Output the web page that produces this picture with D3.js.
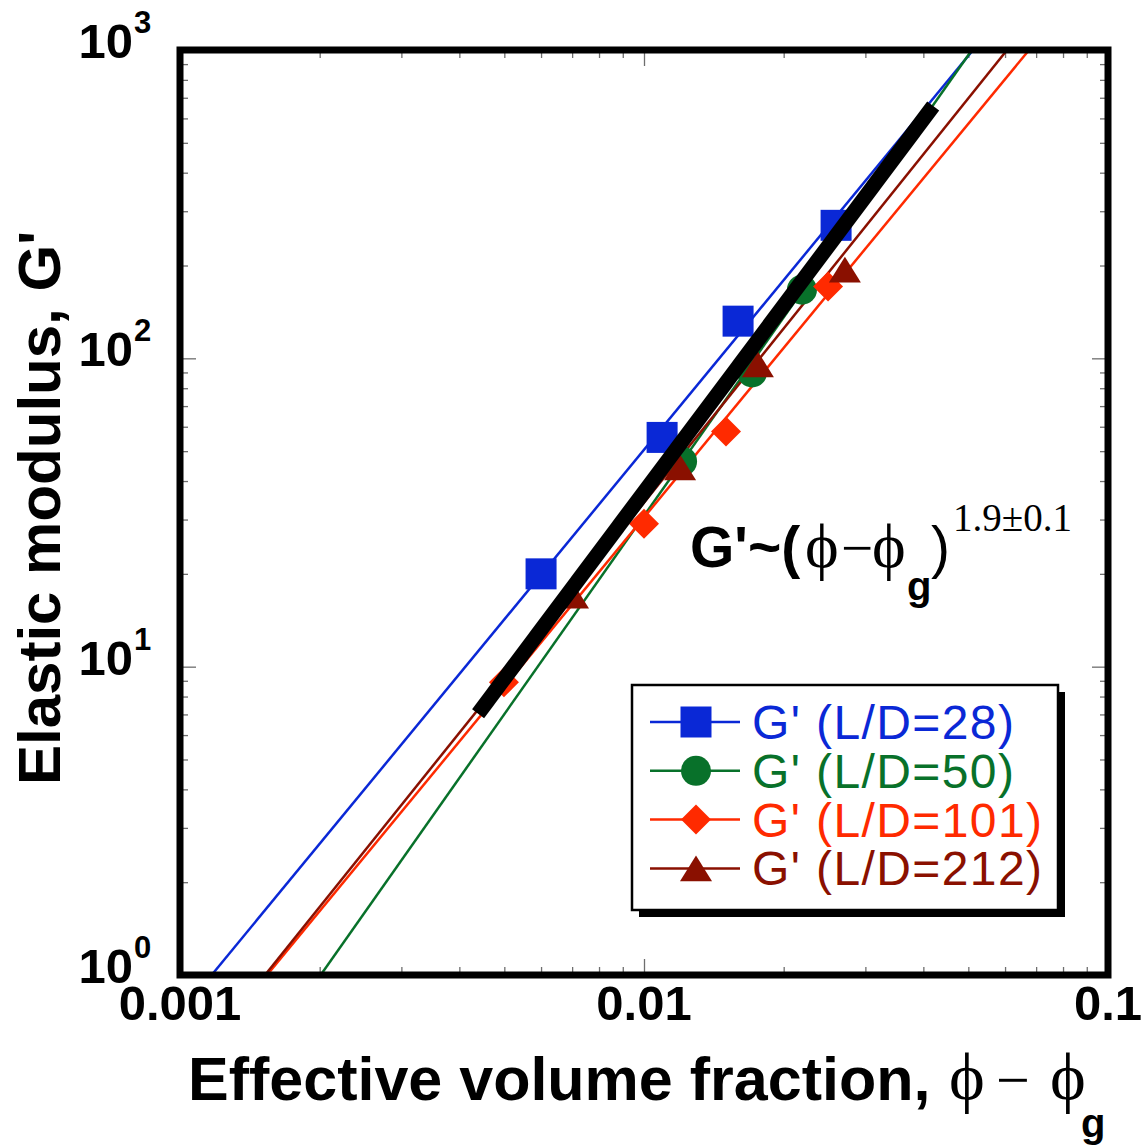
<!DOCTYPE html>
<html>
<head>
<meta charset="utf-8">
<script src="https://cdn.jsdelivr.net/npm/d3@7"></script>
<style>
    html, body { margin: 0; padding: 0; background: #fff; }
    .sans { font-family: "Liberation Sans", Arial, Helvetica, sans-serif; }
    .serif { font-family: "Liberation Serif", "Times New Roman", serif; }
</style>
</head>
<body>
<div class="modulusChart"></div>
<script>
// ----- DATA -------------------------------------------------------------
const xTickValues = [0.001, 0.01, 0.1];
const xTickLabels = ["0.001", "0.01", "0.1"];
const yTickValues = [1, 10, 100, 1000];
const yTickExponents = ["0", "1", "2", "3"];

const seriesNames = ["G' (L/D=28)", "G' (L/D=50)", "G' (L/D=101)", "G' (L/D=212)"];

// measured points [phi - phi_g, G']
const ld28Points  = [[0.0060, 20.0], [0.01094, 55.4], [0.01595, 132], [0.02594, 270]];
const ld50Points  = [[0.01208, 46.3], [0.0171, 90], [0.0219, 167]];
const ld101Points = [[0.00499, 8.9], [0.0100, 29.1], [0.01502, 57.9], [0.02493, 171]];
const ld212Points = [[0.00703, 17.0], [0.01196, 44.3], [0.0176, 95.6], [0.0271, 194]];

// fitted lines, end points
const ld28Fit  = [[0.00117, 1], [0.0512, 1000]];
const ld50Fit  = [[0.00201, 1], [0.0509, 1000]];
const ld101Fit = [[0.00154, 1], [0.0676, 1000]];
const ld212Fit = [[0.001525, 1], [0.0606, 1000]];
const scalingFit = [[0.00439, 7.04], [0.0420, 658]];

// ----- STYLES -----------------------------------------------------------
const seriesColours = ["#0a28d6", "#08712a", "#ff2a00", "#8a1000"];

// triangle centred on its bounding box, a bit flatter than equilateral
const flatTriangle = {
    draw: function( context, size )
    {
        const w = Math.sqrt( size );
        const h = w * 0.8;
        context.moveTo( 0, -h / 2 );
        context.lineTo( w / 2, h / 2 );
        context.lineTo( -w / 2, h / 2 );
        context.closePath();
    }
};

const seriesSymbols = [
    { type: d3.symbolSquare, size: 961, rotate: 0 },
    { type: d3.symbolCircle, size: 707, rotate: 0 },
    { type: d3.symbolSquare, size: 450, rotate: 45 },
    { type: flatTriangle, size: 1024, rotate: 0 }
];

const PHI = "\u03d5";
const MINUS = "\u2212";

// ----- CHART ------------------------------------------------------------
function _drawModulusChart()
{
    const width = 1147;
    const height = 1146;

    const plot = {
        left: 180,
        right: 1108,
        top: 50,
        bottom: 975
    };

    const pointSets = [ld28Points, ld50Points, ld101Points, ld212Points];
    const fitSets = [ld28Fit, ld50Fit, ld101Fit, ld212Fit];

    const svg = d3.select(".modulusChart").append("svg")
        .attr("width", width)
        .attr("height", height)
        .attr("viewBox", "0 0 " + width + " " + height);

    const x = d3.scaleLog()
        .domain([xTickValues[0], xTickValues[xTickValues.length - 1]])
        .range([plot.left, plot.right]);

    const y = d3.scaleLog()
        .domain([yTickValues[0], yTickValues[yTickValues.length - 1]])
        .range([plot.bottom, plot.top]);

    svg.append("defs").append("clipPath")
        .attr("id", "plotClip")
        .append("rect")
        .attr("x", plot.left)
        .attr("y", plot.top)
        .attr("width", plot.right - plot.left)
        .attr("height", plot.bottom - plot.top);

    // ticks (inside the frame, on all four sides)
    const xMinor = x.ticks().filter(v => xTickValues.indexOf(v) < 0);
    const yMinor = y.ticks().filter(v => yTickValues.indexOf(v) < 0);

    const tickAxes = [
        { axis: d3.axisBottom(x), vals: xMinor, len: 8, at: "translate(0," + plot.bottom + ")" },
        { axis: d3.axisBottom(x), vals: xTickValues, len: 16, at: "translate(0," + plot.bottom + ")" },
        { axis: d3.axisTop(x), vals: xMinor, len: 8, at: "translate(0," + plot.top + ")" },
        { axis: d3.axisTop(x), vals: xTickValues, len: 16, at: "translate(0," + plot.top + ")" },
        { axis: d3.axisLeft(y), vals: yMinor, len: 8, at: "translate(" + plot.left + ",0)" },
        { axis: d3.axisLeft(y), vals: yTickValues, len: 16, at: "translate(" + plot.left + ",0)" },
        { axis: d3.axisRight(y), vals: yMinor, len: 8, at: "translate(" + plot.right + ",0)" },
        { axis: d3.axisRight(y), vals: yTickValues, len: 16, at: "translate(" + plot.right + ",0)" }
    ];

    tickAxes.forEach(t => {
        const g = svg.append("g")
            .attr("transform", t.at)
            .call(t.axis.tickValues(t.vals).tickSize(-t.len).tickFormat(""));
        g.select(".domain").remove();
        g.selectAll(".tick line")
            .attr("stroke", "#6e6e6e")
            .attr("stroke-width", 1.3);
    });

    // fitted lines for each series
    const line = d3.line()
        .x(d => x(d[0]))
        .y(d => y(d[1]));

    const lines = svg.append("g").attr("clip-path", "url(#plotClip)");

    fitSets.forEach((fit, i) => {
        lines.append("path")
            .attr("d", line(fit))
            .attr("fill", "none")
            .attr("stroke", seriesColours[i])
            .attr("stroke-width", 2.5);
    });

    // data markers
    pointSets.forEach((pts, i) => {
        const sym = seriesSymbols[i];
        svg.append("g")
            .selectAll("path")
            .data(pts)
            .enter()
                .append("path")
                .attr("d", d3.symbol().type(sym.type).size(sym.size))
                .attr("transform", d => "translate(" + x(d[0]) + "," + y(d[1]) + ") rotate(" + sym.rotate + ")")
                .attr("fill", seriesColours[i]);
    });

    // overall scaling line
    svg.append("path")
        .attr("d", line(scalingFit))
        .attr("fill", "none")
        .attr("stroke", "#000")
        .attr("stroke-width", 15)
        .attr("stroke-linecap", "butt");

    // frame
    svg.append("rect")
        .attr("x", plot.left)
        .attr("y", plot.top)
        .attr("width", plot.right - plot.left)
        .attr("height", plot.bottom - plot.top)
        .attr("fill", "none")
        .attr("stroke", "#000")
        .attr("stroke-width", 7);

    // tick labels
    svg.append("g")
        .selectAll("text")
        .data(xTickValues)
        .enter()
            .append("text")
            .attr("class", "sans")
            .attr("x", d => x(d))
            .attr("y", plot.bottom + 45)
            .attr("text-anchor", "middle")
            .attr("font-size", 49)
            .attr("font-weight", "bold")
            .text((d, i) => xTickLabels[i]);

    const yLabels = svg.append("g")
        .selectAll("g")
        .data(yTickValues)
        .enter()
            .append("g");

    yLabels.append("text")
        .attr("class", "sans")
        .attr("x", 133)
        .attr("y", d => y(d) + 8)
        .attr("text-anchor", "end")
        .attr("font-size", 49)
        .attr("font-weight", "bold")
        .text("10");

    yLabels.append("text")
        .attr("class", "sans")
        .attr("x", 134)
        .attr("y", d => y(d) - 17)
        .attr("font-size", 31)
        .attr("font-weight", "bold")
        .text((d, i) => yTickExponents[i]);

    // axis titles
    const xTitle = svg.append("text")
        .attr("y", 1100);

    xTitle.append("tspan")
        .attr("class", "sans")
        .attr("x", 188)
        .attr("font-size", 61)
        .attr("font-weight", "bold")
        .text("Effective volume fraction,");
    xTitle.append("tspan")
        .attr("class", "serif")
        .attr("x", 949)
        .attr("font-size", 68)
        .text(PHI);
    xTitle.append("tspan")
        .attr("class", "serif")
        .attr("x", 996)
        .attr("font-size", 60)
        .text(MINUS);
    xTitle.append("tspan")
        .attr("class", "serif")
        .attr("x", 1050)
        .attr("font-size", 68)
        .text(PHI);
    xTitle.append("tspan")
        .attr("class", "sans")
        .attr("x", 1081)
        .attr("y", 1137)
        .attr("font-size", 40)
        .attr("font-weight", "bold")
        .text("g");

    svg.append("text")
        .attr("class", "sans")
        .attr("transform", "translate(60,785) rotate(-90)")
        .attr("font-size", 60)
        .attr("font-weight", "bold")
        .text("Elastic modulus, G'");

    // scaling annotation
    const note = svg.append("text")
        .attr("y", 567);

    note.append("tspan")
        .attr("class", "sans")
        .attr("x", 690)
        .attr("font-size", 57)
        .attr("font-weight", "bold")
        .text("G'~(");
    note.append("tspan")
        .attr("class", "serif")
        .attr("x", 805)
        .attr("font-size", 64)
        .text(PHI);
    note.append("tspan")
        .attr("class", "serif")
        .attr("x", 841)
        .attr("font-size", 57)
        .text(MINUS);
    note.append("tspan")
        .attr("class", "serif")
        .attr("x", 872)
        .attr("font-size", 64)
        .text(PHI);
    note.append("tspan")
        .attr("class", "sans")
        .attr("x", 907)
        .attr("y", 600)
        .attr("font-size", 40)
        .attr("font-weight", "bold")
        .text("g");
    note.append("tspan")
        .attr("class", "sans")
        .attr("x", 931)
        .attr("y", 567)
        .attr("font-size", 57)
        .text(")");
    note.append("tspan")
        .attr("class", "serif")
        .attr("x", 953)
        .attr("y", 531)
        .attr("font-size", 39)
        .text("1.9\u00b10.1");

    // legend
    const legendBox = { x: 632, y: 685, width: 426, height: 225, shadow: 7 };

    const legend = svg.append("g");

    legend.append("rect")
        .attr("x", legendBox.x + legendBox.shadow)
        .attr("y", legendBox.y + legendBox.shadow)
        .attr("width", legendBox.width)
        .attr("height", legendBox.height)
        .attr("fill", "#000");

    legend.append("rect")
        .attr("x", legendBox.x)
        .attr("y", legendBox.y)
        .attr("width", legendBox.width)
        .attr("height", legendBox.height)
        .attr("fill", "#fff")
        .attr("stroke", "#000")
        .attr("stroke-width", 2.5);

    const rows = legend.selectAll(".legendRow")
        .data(seriesNames)
        .enter()
            .append("g")
            .attr("class", "legendRow")
            .attr("transform", (d, i) => "translate(0," + ( 722 + i * 48.8 ) + ")");

    rows.append("line")
        .attr("x1", 650)
        .attr("x2", 740)
        .attr("stroke", (d, i) => seriesColours[i])
        .attr("stroke-width", 2.5);

    rows.append("path")
        .attr("d", (d, i) => d3.symbol().type(seriesSymbols[i].type).size(seriesSymbols[i].size)())
        .attr("transform", (d, i) => "translate(696,0) rotate(" + seriesSymbols[i].rotate + ")")
        .attr("fill", (d, i) => seriesColours[i]);

    rows.append("text")
        .attr("class", "sans")
        .attr("x", 752)
        .attr("y", 17)
        .attr("font-size", 48)
        .attr("letter-spacing", 1.4)
        .attr("fill", (d, i) => seriesColours[i])
        .text(d => d);
}

_drawModulusChart();
</script>
</body>
</html>
